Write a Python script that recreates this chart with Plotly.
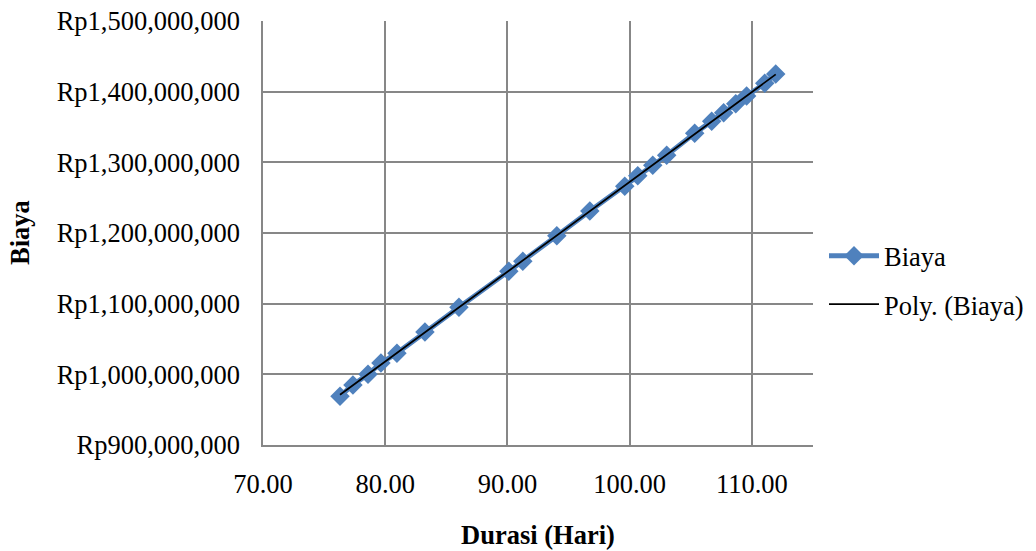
import numpy as np
import plotly.graph_objects as go

# Data
durasi = [76.30, 77.36, 78.59, 79.65, 80.96, 83.25, 86.03, 90.11, 91.26, 94.04,
          96.74, 99.60, 100.66, 101.89, 103.03, 105.32, 106.71, 107.69, 108.68,
          109.57, 111.05, 111.95]
biaya = [969e6, 985e6, 1000e6, 1016e6, 1030e6, 1060e6, 1095e6, 1146e6, 1160e6, 1196e6,
         1231e6, 1266e6, 1281e6, 1296e6, 1310e6, 1341e6, 1358e6, 1370e6, 1383e6,
         1394e6, 1412e6, 1425e6]

x_ticks = [70, 80, 90, 100, 110]
y_ticks = [900e6, 1000e6, 1100e6, 1200e6, 1300e6, 1400e6, 1500e6]
y_ticktext = [f"Rp{int(v):,}" for v in y_ticks]

# Polynomial (order 2) trendline, as Excel's "Poly." trendline
coef = np.polyfit(durasi, biaya, 2)
tx = np.linspace(min(durasi), max(durasi), 100)
ty = np.polyval(coef, tx)

FONT = "Liberation Serif, Times New Roman, serif"
GRID = "#878787"

fig = go.Figure()
fig.add_trace(go.Scatter(
    x=durasi, y=biaya, mode="lines+markers", name="Biaya", legendgroup="g1",
    line=dict(color="#4F81BD", width=5),
    marker=dict(symbol="diamond", size=15, color="#4F81BD"),
))
fig.add_trace(go.Scatter(
    x=tx, y=ty, mode="lines", name="Poly. (Biaya)", legendgroup="g2",
    line=dict(color="#000000", width=1.75),
))

PW = 1036 - 263 - 223
PH = 551 - 21 - 106

fig.update_layout(
    width=1036, height=551,
    margin=dict(l=263, r=223, t=21, b=106, autoexpand=False),
    paper_bgcolor="white", plot_bgcolor="white",
    font=dict(family=FONT, size=26.5, color="#000000"),
    showlegend=True,
    legend=dict(x=1.02, y=(551 - 106 - 280) / PH, xanchor="left", yanchor="middle",
                font=dict(family=FONT, size=26.5), itemwidth=50,
                tracegroupgap=11, bgcolor="rgba(0,0,0,0)"),
    annotations=[
        dict(text="<b>Durasi (Hari)</b>", xref="paper", yref="paper",
             x=0.5, y=(551 - 106 - 535) / PH, xanchor="center", yanchor="middle",
             showarrow=False, font=dict(family=FONT, size=26.5)),
        dict(text="<b>Biaya</b>", textangle=-90, xref="paper", yref="paper",
             x=(20 - 263) / PW, y=0.5, xanchor="center", yanchor="middle",
             showarrow=False, font=dict(family=FONT, size=26.5)),
    ],
)

fig.update_xaxes(
    range=[70, 115], tickvals=x_ticks, tickformat=".2f",
    showgrid=True, gridcolor=GRID, gridwidth=1.5,
    showline=True, linecolor=GRID, linewidth=1.5,
    zeroline=False, ticks="", ticklabelstandoff=14, automargin=False,
    tickfont=dict(family=FONT, size=26.5),
)
fig.update_yaxes(
    range=[900e6, 1500e6], tickvals=y_ticks, ticktext=y_ticktext,
    showgrid=True, gridcolor=GRID, gridwidth=1.5,
    showline=True, linecolor=GRID, linewidth=1.5,
    zeroline=False, ticks="", ticklabelstandoff=16, automargin=False,
    tickfont=dict(family=FONT, size=26.5),
)

fig.write_html("out.html")
